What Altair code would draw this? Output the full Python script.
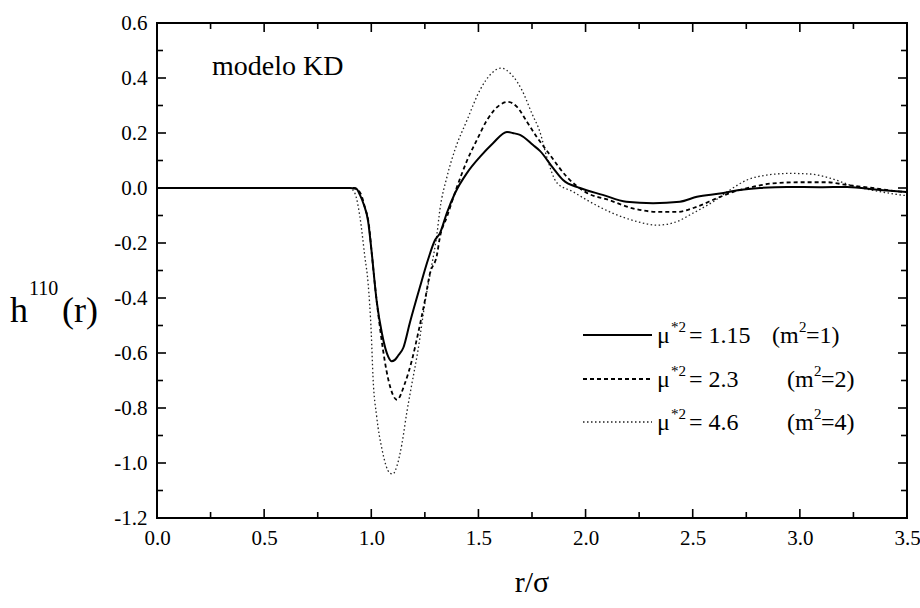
import altair as alt
import pandas as pd

FONT = "Liberation Serif"

# ---- data ----
r1 = [0.0, 0.9, 0.93, 0.947, 0.965, 0.985, 1.0, 1.025, 1.05, 1.08, 1.095, 1.11, 1.125, 1.15, 1.18, 1.227,
      1.265, 1.297, 1.32, 1.353, 1.39, 1.447, 1.507, 1.568, 1.633, 1.66, 1.694, 1.755, 1.787, 1.848, 1.895,
      1.974, 2.08, 2.19, 2.315, 2.44, 2.52, 2.627, 2.72, 2.814, 2.94, 3.094, 3.22, 3.374, 3.5]
h1 = [0.0, 0.0, -0.003, -0.025, -0.06, -0.12, -0.22, -0.41, -0.53, -0.615, -0.63, -0.625, -0.61, -0.58, -0.49, -0.36,
      -0.26, -0.19, -0.165, -0.09, -0.02, 0.055, 0.113, 0.163, 0.204, 0.2, 0.193, 0.156, 0.135, 0.073, 0.029,
      0.0, -0.025, -0.05, -0.055, -0.05, -0.032, -0.02, -0.007, 0.0, 0.004, 0.003, 0.004, -0.007, -0.015]

r2 = [0.0, 0.92, 0.95, 0.97, 0.99, 1.0, 1.025, 1.04, 1.055, 1.087, 1.12, 1.157, 1.19, 1.218, 1.25, 1.274,
      1.306, 1.32, 1.353, 1.4, 1.447, 1.493, 1.54, 1.6, 1.638, 1.68, 1.727, 1.773, 1.834, 1.913, 2.0, 2.11,
      2.22, 2.347, 2.427, 2.52, 2.613, 2.69, 2.78, 2.874, 3.0, 3.126, 3.22, 3.34, 3.467, 3.5]
h2 = [0.0, 0.0, -0.02, -0.07, -0.14, -0.22, -0.41, -0.505, -0.59, -0.72, -0.77, -0.71, -0.625, -0.53, -0.41, -0.31,
      -0.245, -0.18, -0.105, 0.004, 0.1, 0.175, 0.247, 0.302, 0.313, 0.295, 0.24, 0.185, 0.12, 0.04, -0.015, -0.044,
      -0.074, -0.087, -0.087, -0.068, -0.037, -0.014, 0.004, 0.017, 0.021, 0.021, 0.011, 0.0, -0.013, -0.015]

r3 = [0.0, 0.9, 0.924, 0.947, 0.97, 0.985, 1.0, 1.008, 1.025, 1.05, 1.087, 1.1, 1.12, 1.143, 1.167, 1.19,
      1.218, 1.25, 1.28, 1.306, 1.32, 1.353, 1.39, 1.447, 1.507, 1.563, 1.605, 1.657, 1.703, 1.75, 1.787,
      1.82, 1.867, 1.94, 2.02, 2.128, 2.24, 2.333, 2.427, 2.5, 2.595, 2.674, 2.753, 2.846, 2.954, 3.047,
      3.14, 3.234, 3.374, 3.467, 3.5]
h3 = [0.0, 0.0, -0.02, -0.105, -0.25, -0.345, -0.53, -0.687, -0.83, -0.95, -1.037, -1.04, -1.01, -0.93, -0.81, -0.71,
      -0.59, -0.42, -0.29, -0.17, -0.08, 0.04, 0.138, 0.247, 0.356, 0.418, 0.436, 0.41, 0.356, 0.27, 0.204,
      0.11, 0.018, -0.013, -0.05, -0.092, -0.122, -0.135, -0.122, -0.092, -0.05, -0.007, 0.029, 0.047, 0.053, 0.051,
      0.036, 0.011, -0.013, -0.025, -0.028]

x_major = [0.0, 0.5, 1.0, 1.5, 2.0, 2.5, 3.0, 3.5]
x_minor = [0.25, 0.75, 1.25, 1.75, 2.25, 2.75, 3.25]
y_major = [-1.2, -1.0, -0.8, -0.6, -0.4, -0.2, 0.0, 0.2, 0.4, 0.6]
y_minor = [-1.1, -0.9, -0.7, -0.5, -0.3, -0.1, 0.1, 0.3, 0.5]

legend_vals = ["1.15", "2.3", "4.6"]
legend_m = ["1", "2", "4"]

W, H = 750, 495

xs = alt.Scale(domain=[0, 3.5], nice=False, zero=False)
ys = alt.Scale(domain=[-1.2, 0.6], nice=False, zero=False)


def series(r, h, dash, width, color):
    df = pd.DataFrame({"r": r, "h": h})
    mark = dict(color=color, strokeWidth=width, interpolate="monotone")
    if dash:
        mark["strokeDash"] = dash
    return alt.Chart(df).mark_line(**mark).encode(
        x=alt.X("r:Q", scale=xs,
                axis=alt.Axis(values=x_major, format=".1f", title=None, ticks=False, domain=False,
                              grid=False, labelFont=FONT, labelFontSize=21, labelColor="black",
                              labelPadding=9, labelFlush=False, labelOverlap=False)),
        y=alt.Y("h:Q", scale=ys,
                axis=alt.Axis(values=y_major, title=None, ticks=False, domain=False,
                              grid=False, labelFont=FONT, labelFontSize=21, labelColor="black",
                              labelPadding=10, labelFlush=False, labelOverlap=False,
                              labelExpr="(datum.value < -0.001 ? '-' : '') + format(abs(datum.value), '.1f')")),
    )


one = pd.DataFrame({"a": [0]})


def txt(s, x, y, size, align="left"):
    return alt.Chart(one).mark_text(text=s, font=FONT, fontSize=size, align=align,
                                    baseline="alphabetic", color="black").encode(
        x=alt.value(x), y=alt.value(y))


def xticks(vals, length):
    df = pd.DataFrame({"v": vals})
    bottom = alt.Chart(df).mark_rule(color="black", strokeWidth=1.6).encode(
        x=alt.X("v:Q", scale=xs), y=alt.value(H), y2=alt.value(H - length))
    top = alt.Chart(df).mark_rule(color="black", strokeWidth=1.6).encode(
        x=alt.X("v:Q", scale=xs), y=alt.value(0), y2=alt.value(length))
    return [bottom, top]


def yticks(vals, length):
    df = pd.DataFrame({"v": vals})
    left = alt.Chart(df).mark_rule(color="black", strokeWidth=1.6).encode(
        y=alt.Y("v:Q", scale=ys), x=alt.value(0), x2=alt.value(length))
    right = alt.Chart(df).mark_rule(color="black", strokeWidth=1.6).encode(
        y=alt.Y("v:Q", scale=ys), x=alt.value(W), x2=alt.value(W - length))
    return [left, right]


layers = []
layers.append(series(r3, h3, [1.5, 2.5], 1.3, "#222222"))
layers.append(series(r2, h2, [4, 3], 1.8, "black"))
layers.append(series(r1, h1, None, 2.0, "black"))
layers += xticks(x_major, 9) + xticks(x_minor, 6) + yticks(y_major, 9) + yticks(y_minor, 6)

# in-plot label
layers.append(txt("modelo KD", 55, 52, 28))

# axis titles
layers.append(txt("r/\u03c3", W / 2, 569, 30, align="center"))
layers.append(txt("h", -147, 299, 36))
layers.append(txt("110", -128, 272, 20))
layers.append(txt("(r)", -95, 299, 36))

# legend
row_y = [312, 356, 399]
row_xm = [615, 630, 630]
dashes = [None, [4, 3], [1.5, 2.5]]
widths = [2.0, 1.8, 1.3]
for i in range(3):
    yc = row_y[i]
    rule_kw = dict(color="black" if i < 2 else "#222222", strokeWidth=widths[i])
    if dashes[i]:
        rule_kw["strokeDash"] = dashes[i]
    layers.append(alt.Chart(one).mark_rule(**rule_kw).encode(
        x=alt.value(426), x2=alt.value(495), y=alt.value(yc)))
    base = yc + 8
    layers.append(txt("\u03bc", 500, base, 24))
    layers.append(txt("*2", 514, base - 11, 15))
    layers.append(txt("= " + legend_vals[i], 532, base, 24))
    xm = row_xm[i]
    layers.append(txt("(m", xm, base, 24))
    layers.append(txt("2", xm + 27, base - 11, 15))
    layers.append(txt("=" + legend_m[i] + ")", xm + 34, base, 24))

chart = alt.layer(*layers).properties(
    width=W, height=H,
    padding={"left": 157, "top": 23, "right": 13, "bottom": 90},
    autosize=alt.AutoSizeParams(type="none"),
    background="white",
).configure_view(stroke="black", strokeWidth=2)

chart.save("out.html", embed_options={"renderer": "svg", "actions": False})
